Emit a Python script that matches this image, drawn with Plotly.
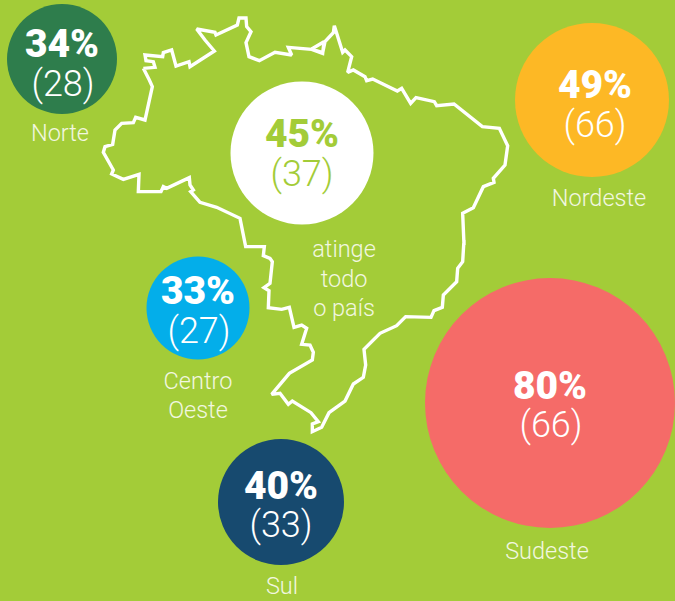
import plotly.graph_objects as go

BG = "#A3CC38"
# Region data
regions = ["Norte", "Brasil", "Nordeste", "Centro Oeste", "Sul", "Sudeste"]
percent = ["34%", "45%", "49%", "33%", "40%", "80%"]
counts = ["(28)", "(37)", "(66)", "(27)", "(33)", "(66)"]
bubble_x = [62, 302, 592, 198, 281, 550]
bubble_y = [59, 153, 100, 308, 502, 403]
bubble_d = [110, 143, 154, 103, 126, 250]
bubble_colors = ["#2E7D4C", "#FFFFFF", "#FDB825", "#03AEEA", "#174A6F", "#F56B68"]
pct_colors = ["#FFFFFF", "#A3CC38", "#FFFFFF", "#FFFFFF", "#FFFFFF", "#FFFFFF"]
pct_y = [47, 137, 88, 294, 489, 389]
cnt_y = [87, 177, 128, 334, 528, 428]
pct_x = [62, 302, 595, 198, 281, 550]
cnt_x = [63, 302, 595, 199, 281, 551]

labels = ["Norte", "Nordeste", "Centro", "Oeste", "Sudeste", "Sul", "atinge", "todo", "o país"]
label_x = [60, 599, 198, 198, 547, 282, 344, 344, 344]
label_y = [135, 200, 383, 412, 553, 588, 251, 281, 310]

# Brazil outline
map_zoom1_x = [130,165,160,138,135,188,190,215,228,267,270,343,315,290,345,348,412,417,438,440,453,438,447,478,525,575,565,635,668,672]
map_zoom1_y = [175,172,155,152,135,140,128,120,168,155,170,123,90,57,67,75,45,24,24,50,65,98,140,152,127,135,112,118,130,95]
map_zoom2_x = [35,68,75,100,103,128,135,155,143,160,195,200,218,292,305,332,348,403,410,462,547,598,623,615,580,582,550,520,488,492]
map_zoom2_y = [87,98,65,38,17,97,90,110,157,150,170,182,177,213,205,250,233,245,257,252,320,325,377,435,475,487,500,563,580,675]
map_zoom3_x = [702,698,683,680,640,637,612,603,527,500,450,402,407,400,370,345,297,275,247,247,265,243,187,175,150,125,178,247,250,240,215,230,215,192,178,155,115,117,102,120,127,120,100,103,47]
map_zoom3_y = [60,125,145,185,225,262,272,292,290,317,340,388,435,472,492,543,578,622,635,612,605,578,543,553,520,523,460,420,397,375,373,325,315,322,262,268,263,212,203,190,125,115,107,80,80]
map_zoom4_x = [420,350,300,272,280,270,268,200,190,183,115,117,70,35,40,10,15,38,45,65,100,107,135,157,148,130]
map_zoom4_y = [625,592,577,545,540,525,503,535,530,545,545,493,508,492,480,427,410,403,360,340,338,322,330,230,210,175]

map_x = ([100 + v / 3 for v in map_zoom1_x] + [300 + v / 3 for v in map_zoom2_x]
         + [230 + v / 3 for v in map_zoom3_x] + [100 + v / 3 for v in map_zoom4_x])
map_y = ([10 + v / 3 for v in map_zoom1_y] + [20 + v / 3 for v in map_zoom2_y]
         + [220 + v / 3 for v in map_zoom3_y] + [10 + v / 3 for v in map_zoom4_y])

fig = go.Figure()
fig.add_trace(go.Scatter(x=map_x, y=map_y, mode="lines",
                         line=dict(color="#FFFFFF", width=3.4), hoverinfo="skip"))
fig.add_trace(go.Scatter(x=bubble_x, y=bubble_y, mode="markers",
                         marker=dict(size=bubble_d, sizemode="diameter", color=bubble_colors, opacity=1,
                                     line=dict(width=0)),
                         text=regions, hoverinfo="text"))
fig.add_trace(go.Scatter(x=pct_x, y=pct_y, mode="text", text=percent,
                         textfont=dict(family="Roboto", size=39, color=pct_colors, weight=900),
                         hoverinfo="skip"))
fig.add_trace(go.Scatter(x=cnt_x, y=cnt_y, mode="text", text=counts,
                         textfont=dict(family="Roboto", size=36, color=pct_colors, weight=300),
                         hoverinfo="skip"))
fig.add_trace(go.Scatter(x=label_x, y=label_y, mode="text", text=labels,
                         textfont=dict(family="Roboto", size=23.5, color="#F2F7E0", weight=300),
                         hoverinfo="skip"))
fig.update_layout(width=675, height=601, margin=dict(l=0, r=0, t=0, b=0),
                  paper_bgcolor=BG, plot_bgcolor=BG, showlegend=False,
                  xaxis=dict(range=[0, 675], visible=False, fixedrange=True),
                  yaxis=dict(range=[601, 0], visible=False, fixedrange=True))
fig.write_html("out.html", config=dict(displayModeBar=False),
               post_script="document.body.style.margin='0';document.body.style.background='%s';" % BG)
